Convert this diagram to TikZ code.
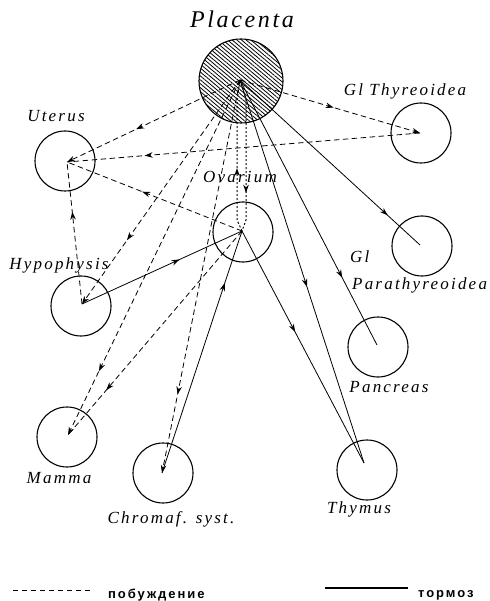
\documentclass[tikz,border=0pt]{standalone}
\usepackage{fontspec}
\setmainfont{Liberation Serif}
\newfontfamily\labfont[LetterSpace=13]{Liberation Serif}
\newfontfamily\titfont[LetterSpace=11]{Liberation Serif}
\newfontfamily\legfont[LetterSpace=15]{Liberation Sans}
\usetikzlibrary{arrows.meta,decorations.markings,patterns.meta}
\tikzset{
  organ/.style={circle, draw, line width=1.1pt, minimum size=60pt, inner sep=0pt},
  lab/.style={font=\labfont\itshape\fontsize{17}{20}\selectfont, inner sep=0pt, anchor=base},
  leg/.style={font=\legfont\bfseries\fontsize{13}{15}\selectfont, inner sep=0pt, anchor=base west},
  exc/.style={draw, line width=0.8pt, dash pattern=on 5.5pt off 3.5pt},
  inh/.style={draw, line width=0.8pt},
  dotl/.style={draw, line width=1pt, dash pattern=on 2pt off 2pt},
  midarr/.style={postaction={decorate}, decoration={markings, mark=at position #1 with {\arrow{Stealth[length=8pt,width=5.5pt]}}}},
  endarr/.style={-{Stealth[length=8pt,width=5.5pt]}}
}
\begin{document}
\begin{tikzpicture}[x=1pt,y=-1pt]
\useasboundingbox (0,0) rectangle (489,601);
% organs
\node[circle, draw, line width=1.1pt, minimum size=84pt, inner sep=0pt,
  pattern={Lines[angle=-40,distance=3pt,line width=0.8pt]}] (pl) at (241,81) {};
\node[organ] (ut) at (65,161) {};
\node[organ] (th) at (421,133) {};
\node[organ] (ov) at (243,232) {};
\node[organ] (hy) at (81,306) {};
\node[organ] (pa) at (422,246) {};
\node[organ] (pn) at (378,347) {};
\node[organ] (ma) at (67,437) {};
\node[organ] (ch) at (163,473) {};
\node[organ] (ty) at (367,470) {};
% hubs
\coordinate (plc) at (240,80);
\coordinate (utc) at (67,162);
\coordinate (thc) at (420,133);
\coordinate (ovc) at (242,231);
\coordinate (hyc) at (82,304);
\coordinate (pac) at (420,245);
\coordinate (pnc) at (377,345);
\coordinate (mac) at (68,435);
\coordinate (chc) at (162,473);
\coordinate (tyc) at (364,463);
% labels
\node[font=\titfont\itshape\fontsize{24}{28}\selectfont, inner sep=0pt, anchor=base] (tpl) at (242,28) {Placenta};
\node[lab] (tut) at (56,122) {Uterus};
\node[lab] (tth) at (405,96) {Gl Thyreoidea};
\node[lab] (tov) at (240,183) {Ovarium};
\node[lab] (thy) at (59,269) {Hypophysis};
\node[lab, anchor=base west] (tgl) at (350,262) {Gl};
\node[lab, anchor=base west] (tpa) at (352,289) {Parathyreoidea};
\node[lab] (tpn) at (389,392) {Pancreas};
\node[lab] (tma) at (59,483) {Mamma};
\node[lab] (tch) at (171,523) {Chromaf. syst.};
\node[lab] (tty) at (359,513) {Thymus};
% connectors
\draw[exc, endarr, midarr=0.6] (plc) -- (utc);
\draw[exc, endarr, midarr=0.52] (plc) -- (thc);
\draw[exc, midarr=0.78] (thc) -- (utc);
\draw[exc, midarr=0.57] (ovc) -- (utc);
\draw[exc, midarr=0.65] (hyc) -- (utc);
\draw[exc, endarr, midarr=0.715] (plc) -- (hyc);
\draw[inh, midarr=0.61] (hyc) -- (ovc);
\draw[exc, endarr, midarr=0.82] (plc) -- (mac);
\draw[exc, midarr=0.78] (ovc) -- (mac);
\draw[exc, endarr, midarr=0.80] (plc) -- (chc);
\draw[inh, midarr=0.785] (chc) -- (ovc);
\draw[dotl, midarr=0.42] (ovc) -- (237,220) -- (237,100) -- (plc);
\draw[dotl, midarr=0.745] (plc) -- (246,100) -- (246,220) -- (ovc);
\draw[inh, midarr=0.82] (plc) -- (pac);
\draw[inh, midarr=0.746] (plc) -- (pnc);
\draw[inh, midarr=0.54] (plc) -- (tyc);
\draw[inh, midarr=0.435] (ovc) -- (tyc);
% legend
\coordinate (la) at (13,590);
\coordinate (lb) at (92,590);
\coordinate (lc) at (325,588);
\coordinate (ld) at (408,588);
\draw[line width=1pt, dash pattern=on 5pt off 4pt] (la) -- (lb);
\draw[line width=2pt] (lc) -- (ld);
\node[leg] (lt1) at (108,598) {побуждение};
\node[leg] (lt2) at (418,597) {тормоз};
\end{tikzpicture}
\end{document}
